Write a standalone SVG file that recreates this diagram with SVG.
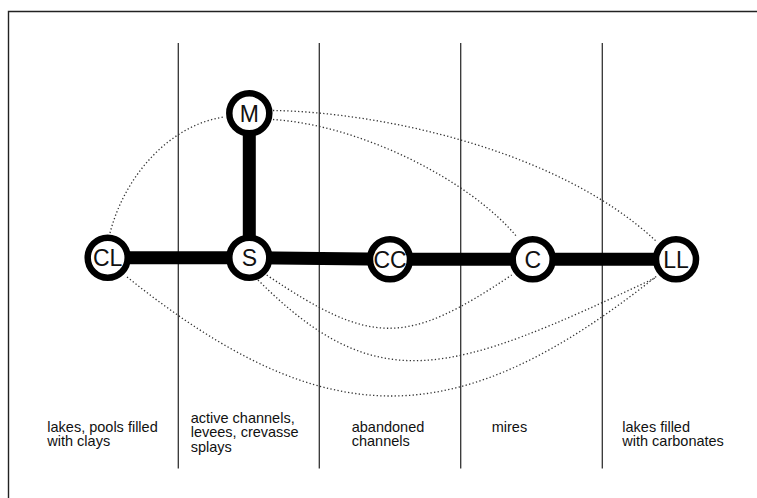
<svg xmlns="http://www.w3.org/2000/svg" width="757" height="498" viewBox="0 0 757 498">
<style>
.frame{fill:none;stroke:#222;stroke-width:1.4}
.sep{stroke:#333;stroke-width:1.3}
.dot{fill:none;stroke:#333;stroke-width:1.3;stroke-dasharray:1.3 2.3}
.bar{stroke:#000;stroke-width:13;stroke-linecap:butt}
.node circle{fill:#fff;stroke:#000;stroke-width:6.5}
.node text{font-family:"Liberation Sans",Arial,sans-serif;font-size:23px;fill:#111;text-anchor:middle}
.lbl{font-family:"Liberation Sans",Arial,sans-serif;font-size:14.5px;fill:#111}
</style>
<rect width="757" height="498" fill="#fff"/>
<path class="frame" d="M8.5,498 V11.5 H757"/>
<g id="separators">
<line class="sep" x1="178.3" y1="43" x2="178.3" y2="468.5"/>
<line class="sep" x1="319.3" y1="43" x2="319.3" y2="468.5"/>
<line class="sep" x1="460.7" y1="43" x2="460.7" y2="468.5"/>
<line class="sep" x1="602.3" y1="43" x2="602.3" y2="468.5"/>
</g>
<g id="connectors">
<path class="dot" d="M110,233 C125,175 170,125 224,117"/>
<path class="dot" d="M273,110.5 C380,112 560,150 657,242"/>
<path class="dot" d="M273,119.5 C360,125 470,180 517,237"/>
<path class="dot" d="M266.7,275 C372,346 406,346 511.7,275"/>
<path class="dot" d="M258,280 C378,400 450,375 655,278"/>
<path class="dot" d="M127,277 C327,437 458,435 658,275"/>
<line class="bar" x1="107.7" y1="257.7" x2="249.3" y2="257.7"/>
<line class="bar" x1="249.3" y1="257.7" x2="390" y2="259.3"/>
<line class="bar" x1="390" y1="259.3" x2="532.7" y2="259.3"/>
<line class="bar" x1="532.7" y1="259.3" x2="676" y2="259.3"/>
<line class="bar" x1="249.3" y1="113.3" x2="249.3" y2="257.7"/>
</g>
<g id="node-CL" class="node"><circle cx="107.7" cy="257.7" r="20"/><text x="107.7" y="266">CL</text></g>
<g id="node-M" class="node"><circle cx="249.3" cy="113.3" r="20"/><text x="249.3" y="121.6">M</text></g>
<g id="node-S" class="node"><circle cx="249.3" cy="257.7" r="20"/><text x="249.3" y="266">S</text></g>
<g id="node-CC" class="node"><circle cx="390" cy="259.3" r="20"/><text x="390" y="267.6">CC</text></g>
<g id="node-C" class="node"><circle cx="532.7" cy="259.3" r="20"/><text x="532.7" y="267.6">C</text></g>
<g id="node-LL" class="node"><circle cx="676" cy="259.3" r="20"/><text x="676" y="267.6">LL</text></g>
<g id="labels">
<text class="lbl" x="47.3" y="431.5">lakes, pools filled<tspan x="47.3" y="446">with clays</tspan></text>
<text class="lbl" x="190.7" y="422.5">active channels,<tspan x="190.7" y="437.3">levees, crevasse</tspan><tspan x="190.7" y="452">splays</tspan></text>
<text class="lbl" x="351.7" y="431.5">abandoned<tspan x="351.7" y="446">channels</tspan></text>
<text class="lbl" x="491.7" y="431.5">mires</text>
<text class="lbl" x="622.3" y="431.5">lakes filled<tspan x="622.3" y="446">with carbonates</tspan></text>
</g>
</svg>
